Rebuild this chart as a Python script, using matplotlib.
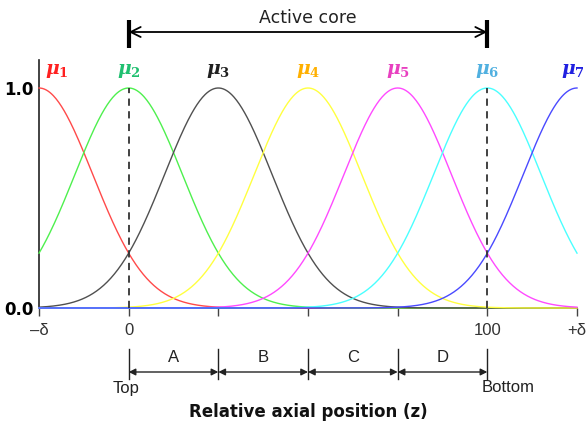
import numpy as np
import matplotlib.pyplot as plt

plt.rcParams['mathtext.fontset'] = 'dejavuserif'

# membership function centres (relative axial position, delta = 25)
centers = [-25, 0, 25, 50, 75, 100, 125]
sigma = 15.0
line_colors = ['#ff4a4a', '#4ef04e', '#505050', '#ffff40', '#ff4aff', '#4affff', '#4a4aff']
label_colors = ['#ff2020', '#20c070', '#202020', '#ffb000', '#e840c0', '#50b0e0', '#2020e0']
mu_labels = [r'$\mathbfit{\mu}_\mathbf{%d}$' % (i + 1) for i in range(7)]

tick_pos = [-25, 0, 25, 50, 75, 100, 125]
tick_labels = ['\u2013\u03b4', '0', '', '', '', '100', '+\u03b4']

regions = ['A', 'B', 'C', 'D']
region_edges = [0, 25, 50, 75, 100]

fig = plt.figure(figsize=(5.88, 4.28), dpi=100)
ax = fig.add_axes([39/588, 120/428, 538/588, 248/428])

z = np.linspace(-25, 125, 600)
for c, col in zip(centers, line_colors):
    ax.plot(z, np.exp(-(z - c)**2 / (2 * sigma**2)), color=col, lw=1.0, zorder=3, clip_on=False)

for c, lab, col in zip(centers, mu_labels, label_colors):
    xl = c
    if c == -25:
        xl = -20
    if c == 125:
        xl = 124
    ax.text(xl, 1.08, lab, color=col, fontsize=13.5, ha='center', va='center')

# dashed markers at top and bottom of active core
for xd in [0, 100]:
    ax.plot([xd, xd], [0, 1], color='#333333', lw=1.3, ls=(0, (4, 3)), zorder=4)

ax.set_xlim(-25, 125)
ax.set_ylim(0, 248/220)
ax.spines['top'].set_visible(False)
ax.spines['right'].set_visible(False)
for s in ['left', 'bottom']:
    ax.spines[s].set_color('#222222')
    ax.spines[s].set_linewidth(1.2)

ax.set_xticks(tick_pos)
ax.set_xticklabels(tick_labels, family='Liberation Sans', fontsize=12, color='#333333')
ax.set_yticks([0, 1])
ax.set_yticklabels(['0.0', '1.0'], fontweight='bold', fontsize=12)
ax.tick_params(axis='x', direction='out', length=6, width=1, color='#444444', pad=5)
ax.tick_params(axis='y', length=0, pad=4)

# active core arrow
ya = (308 - 32) / 220
ax.annotate('', xy=(0, ya), xytext=(100, ya), xycoords='data',
            arrowprops=dict(arrowstyle='<->', color='black', lw=1.3, mutation_scale=18,
                            shrinkA=0, shrinkB=0), annotation_clip=False)
for xb in [0, 100]:
    ax.plot([xb, xb], [(308 - 20) / 220, (308 - 48) / 220], color='black', lw=3,
            clip_on=False, solid_capstyle='butt')
ax.text(50, (308 - 18) / 220, 'Active core', ha='center', va='center', fontsize=12.5,
        family='DejaVu Sans', color='#222222')

# region dimension arrows below axis
y_top = (308 - 349) / 220
y_bot = (308 - 379) / 220
y_arr = (308 - 372) / 220
y_let = (308 - 357) / 220
for xe in region_edges:
    ax.plot([xe, xe], [y_top, y_bot], color='#222222', lw=1.0, clip_on=False)
for i, r in enumerate(regions):
    x0, x1 = region_edges[i], region_edges[i + 1]
    ax.annotate('', xy=(x0, y_arr), xytext=(x1, y_arr), xycoords='data',
                arrowprops=dict(arrowstyle='<|-|>', color='#222222', lw=1.0,
                                mutation_scale=10, shrinkA=0, shrinkB=0),
                annotation_clip=False)
    ax.text((x0 + x1) / 2, y_let, r, ha='center', va='center', fontsize=12,
            family='Liberation Sans', color='#222222')

y_tb = (308 - 388) / 220
ax.text(-0.8, y_tb, 'Top', ha='center', va='center', fontsize=12,
        family='Liberation Sans', color='#222222')
ax.text(98.3, y_tb, 'Bottom', ha='left', va='center', fontsize=12,
        family='Liberation Sans', color='#222222')

ax.text(50, (308 - 412) / 220, 'Relative axial position (z)', ha='center', va='center',
        fontsize=12, fontweight='bold', family='DejaVu Sans', color='#111111')

fig.savefig('out.png', dpi=100)
